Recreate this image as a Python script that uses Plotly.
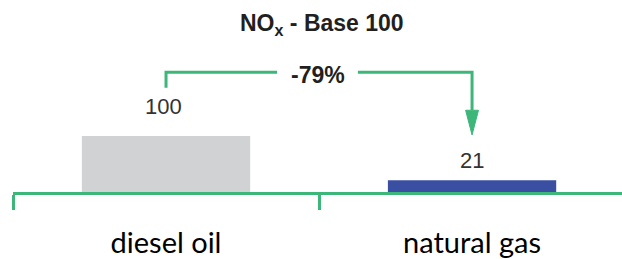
import plotly.graph_objects as go

categories = ["diesel oil", "natural gas"]
values = [100, 21]
bar_colors = ["#D1D2D4", "#3B4FA2"]
value_labels = ["100", "21"]
title_text = "NO<sub>x</sub> - Base 100"
change_label = "-79%"

GREEN = "#3DB67A"
W, H = 622, 259
ML, MB = 13, 67
plot_h = H - MB
px_per_unit = 0.56
y_max = plot_h / px_per_unit

fig = go.Figure()
fig.add_trace(go.Bar(
    x=categories, y=values,
    marker=dict(color=bar_colors, line=dict(width=0)),
    width=0.55,
    hoverinfo="skip",
))

# value labels
shifts = [15, 5]
xshifts = [-3, 0]
for c, v, t, s, xs in zip(categories, values, value_labels, shifts, xshifts):
    fig.add_annotation(x=c, y=v, text=t, showarrow=False, yanchor="bottom",
                       xshift=xs, yshift=s,
                       font=dict(family="Liberation Sans, Arial", size=22, color="#333333"))

# bracket from first bar to second bar
y_top = 214
y_start = 186
y_head = 146
y_tip = 102
gap_l, gap_r = 0.363, 0.627
path = (f"M 0,{y_start} L 0,{y_top} L {gap_l},{y_top} "
        f"M {gap_r},{y_top} L 1,{y_top} L 1,{y_head}")
fig.add_shape(type="path", path=path, xref="x", yref="y",
              line=dict(color=GREEN, width=3))
hw = 0.021
fig.add_shape(type="path", xref="x", yref="y",
              path=f"M {1-hw},{y_head} L {1+hw},{y_head} L 1,{y_tip} Z",
              fillcolor=GREEN, line=dict(color=GREEN, width=1))
fig.add_annotation(x=0.495, y=y_top, xref="x", yref="y", text=f"<b>{change_label}</b>",
                   showarrow=False, yanchor="middle", yshift=-3,
                   font=dict(family="Liberation Sans, Arial", size=23, color="#231F20"))

# title
fig.add_annotation(x=(322 - ML) / (W - ML), y=(H - 24 - MB) / plot_h, xref="paper", yref="paper",
                   text=f"<b>{title_text}</b>", showarrow=False, xanchor="center", yanchor="middle",
                   font=dict(family="Liberation Sans, Arial", size=23, color="#231F20"))

fig.update_layout(
    width=W, height=H,
    margin=dict(l=ML, r=0, t=0, b=MB),
    paper_bgcolor="white", plot_bgcolor="white",
    showlegend=False,
    xaxis=dict(type="category", range=[-0.5, 1.49], tickson="boundaries",
               ticks="outside", ticklen=15, tickwidth=3, tickcolor=GREEN,
               showline=True, linecolor=GREEN, linewidth=3, automargin=False,
               showgrid=False, zeroline=False, ticklabelstandoff=23,
               tickfont=dict(family="Lato", size=29, color="#000000")),
    yaxis=dict(range=[0, y_max], visible=False, showgrid=False, zeroline=False),
)

fig.write_html("out.html", config={"displayModeBar": False},
               post_script="document.body.style.margin='0';")
